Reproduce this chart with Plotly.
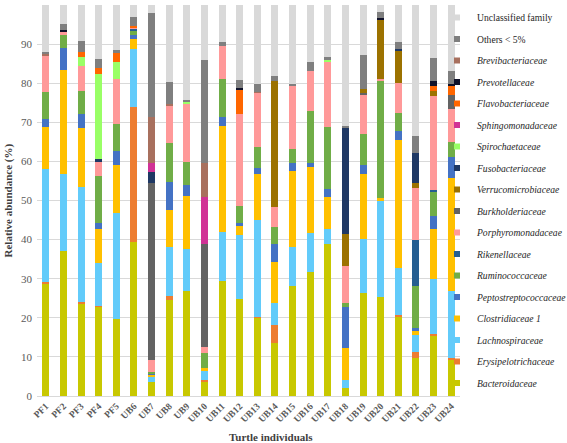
import plotly.graph_objects as go

turtles = ["PF1", "PF2", "PF3", "PF4", "PF5", "UB6", "UB7", "UB8", "UB9", "UB10", "UB11", "UB12",
           "UB13", "UB14", "UB15", "UB16", "UB17", "UB18", "UB19", "UB20", "UB21", "UB22", "UB23", "UB24"]

bacteroidaceae = [28.8, 37.2, 23.7, 22.8, 19.6, 39.5, 3.7, 24.6, 26.9, 3.8, 29.4, 24.9, 20.0, 13.6, 28.1, 31.8, 39.0, 2.0, 26.3, 25.2, 20.3, 9.8, 15.4, 9.4]
erysipelotrichaceae = [0.4, 0, 0.3, 0.3, 0, 34.5, 0, 1.0, 0, 0.3, 0, 0, 0.3, 4.6, 0, 0, 0, 0, 0, 0, 0.4, 1.5, 0.4, 0.2]
lachnospiraceae = [28.8, 19.7, 29.4, 11.0, 27.1, 14.7, 1.2, 12.4, 10.6, 2.5, 12.6, 16.3, 24.7, 5.7, 9.9, 9.8, 3.6, 2.1, 13.8, 24.9, 12.1, 4.3, 14.0, 17.3]
clostridiaceae1 = [10.9, 26.5, 15.1, 8.7, 12.4, 2.6, 0.6, 9.6, 13.7, 0.5, 27.1, 2.4, 11.9, 10.5, 19.5, 16.9, 8.2, 8.3, 16.8, 0.5, 32.8, 1.0, 12.8, 28.8]
peptostreptococcaceae = [1.9, 5.7, 3.6, 1.5, 3.6, 1.1, 0.3, 7.2, 2.8, 0, 2.3, 0.7, 1.3, 4.6, 2.0, 1.0, 2.1, 10.3, 2.2, 0, 2.3, 0.9, 3.4, 5.3]
ruminococcaceae = [6.9, 3.2, 5.9, 11.9, 6.9, 1.2, 0.4, 9.8, 5.8, 4.0, 9.7, 4.3, 5.4, 4.1, 3.7, 13.5, 15.8, 1.2, 7.9, 30.2, 4.6, 10.6, 6.3, 4.0]
rikenellaceae = [0, 0, 0, 0, 0, 0.4, 0, 0, 0, 0, 0, 0, 0, 0, 0, 0, 0, 0, 0, 0, 0, 11.8, 0.4, 0]
porphyromonadaceae = [9.5, 0.9, 6.4, 3.9, 11.5, 0.3, 3.0, 9.6, 15.1, 1.5, 8.5, 23.4, 14.0, 5.2, 16.1, 10.2, 16.9, 9.3, 10.0, 0.4, 7.6, 13.2, 24.1, 8.3]
burkholderiaceae = [0, 0, 0, 0, 0, 0, 45.2, 0, 0, 26.4, 0, 0, 0, 0, 0, 0, 0, 0, 0.4, 0, 0, 0, 0, 3.8]
verrucomicrobiaceae = [0, 0, 0, 0, 0, 0, 0, 0, 0, 0, 0, 0, 0, 32.3, 0, 0, 0, 8.2, 1.0, 15.1, 8.2, 1.5, 1.3, 0]
fusobacteriaceae = [0, 0, 0, 0.5, 0, 0, 2.8, 0, 0, 0, 0, 0, 0, 0, 0, 0, 0, 27.2, 0, 0, 0.4, 7.5, 0, 0]
spirochaetaceae = [0, 0, 2.4, 21.7, 4.4, 0, 0, 0, 0.4, 0, 0, 0, 0, 0, 0, 0, 0.4, 0, 0, 0, 0, 0, 0, 0]
sphingomonadaceae = [0, 0, 0, 0, 0, 0, 2.3, 0, 0, 12.0, 0, 0, 0, 0, 0, 0, 0, 0, 0, 0, 0, 0, 0, 0]
flavobacteriaceae = [0, 0, 1.3, 1.5, 2.3, 0.3, 0, 0, 0, 0, 0, 6.5, 0, 0, 0, 0, 0, 0, 0, 0, 0, 0, 1.2, 2.3]
prevotellaceae = [0, 0.4, 0, 0, 0, 0, 0, 0, 0, 0, 0, 0.3, 0, 0, 0, 0, 0, 0, 0, 0.3, 0, 0, 1.3, 0.3]
brevibacteriaceae = [0.4, 0, 0, 0, 0, 0, 11.8, 0.4, 0, 8.5, 0, 0, 0.2, 0, 0, 0, 0, 0, 0, 0, 0, 0, 0, 0]
others = [0.5, 1.5, 2.7, 2.4, 0.7, 2.4, 26.6, 5.8, 0.4, 26.4, 1.0, 2.0, 2.0, 1.2, 0.5, 2.3, 0.8, 0.5, 8.8, 1.7, 1.9, 4.4, 5.9, 3.5]
unclassified = [11.9, 4.9, 9.2, 14.1, 11.5, 3.0, 2.1, 19.6, 24.3, 14.1, 9.4, 19.2, 20.2, 18.2, 20.2, 14.5, 13.2, 30.9, 12.8, 1.7, 9.4, 33.5, 13.5, 16.8]

series = [
    ("<i>Bacteroidaceae</i>", bacteroidaceae, "#C8C800"),
    ("<i>Erysipelotrichaceae</i>", erysipelotrichaceae, "#ED7D31"),
    ("<i>Lachnospiraceae</i>", lachnospiraceae, "#62CBFA"),
    ("<i>Clostridiaceae 1</i>", clostridiaceae1, "#FFC000"),
    ("<i>Peptostreptococcaceae</i>", peptostreptococcaceae, "#4472C4"),
    ("<i>Ruminococcaceae</i>", ruminococcaceae, "#70AD47"),
    ("<i>Rikenellaceae</i>", rikenellaceae, "#255E91"),
    ("<i>Porphyromonadaceae</i>", porphyromonadaceae, "#FF9999"),
    ("<i>Burkholderiaceae</i>", burkholderiaceae, "#636363"),
    ("<i>Verrucomicrobiaceae</i>", verrucomicrobiaceae, "#9C7200"),
    ("<i>Fusobacteriaceae</i>", fusobacteriaceae, "#1F3864"),
    ("<i>Spirochaetaceae</i>", spirochaetaceae, "#99FF66"),
    ("<i>Sphingomonadaceae</i>", sphingomonadaceae, "#D13296"),
    ("<i>Flavobacteriaceae</i>", flavobacteriaceae, "#FF6600"),
    ("<i>Prevotellaceae</i>", prevotellaceae, "#10122A"),
    ("<i>Brevibacteriaceae</i>", brevibacteriaceae, "#A8705E"),
    ("Others &lt; 5%", others, "#7F7F7F"),
    ("Unclassified family", unclassified, "#D9D9D9"),
]

serif = "Liberation Serif, Times New Roman, serif"

fig = go.Figure()
for name, vals, color in series:
    fig.add_trace(go.Bar(
        x=turtles, y=vals, name=name, marker=dict(color=color, line=dict(width=0)),
        showlegend=False,
    ))
# legend entries (top = Unclassified family) with small square swatches
for i, (name, vals, color) in enumerate(reversed(series)):
    fig.add_trace(go.Scatter(
        x=[None], y=[None], mode="markers", name=name,
        marker=dict(symbol="square", size=6, color=color),
        legendgroup="g%02d" % i, showlegend=True,
    ))

PL, PR, PT, PB = 37, 460, 5, 396
pw, ph = PR - PL, PB - PT

fig.update_layout(
    width=567, height=443,
    barmode="stack", bargap=0.6,
    plot_bgcolor="white", paper_bgcolor="white",
    margin=dict(l=PL, r=567 - PR, t=PT, b=443 - PB, autoexpand=False),
    font=dict(family=serif, size=10, color="#404040"),
    legend=dict(
        x=(437 - PL) / pw, xanchor="left", y=(PB - 3) / ph, yanchor="top",
        traceorder="grouped", tracegroupgap=2.5, maxheight=440,
        font=dict(family=serif, size=9.6, color="#262626"),
        bgcolor="rgba(0,0,0,0)", borderwidth=0,
    ),
    showlegend=True,
    annotations=[
        dict(text="<b>Turtle individuals</b>", xref="paper", yref="paper",
             x=(271 - PL) / pw, y=(PB - 437) / ph, xanchor="center", yanchor="middle",
             showarrow=False, font=dict(family=serif, size=11, color="#404040")),
        dict(text="<b>Relative abundance (%)</b>", xref="paper", yref="paper",
             x=(8 - PL) / pw, y=0.5, xanchor="center", yanchor="middle", textangle=-90,
             showarrow=False, font=dict(family=serif, size=11, color="#404040")),
    ],
)
fig.update_yaxes(
    range=[0, 100], dtick=10, showgrid=True, gridcolor="#D9D9D9", gridwidth=1,
    zeroline=False, showline=False, ticks="", automargin=False,
    ticklabelstandoff=4,
    tickfont=dict(family=serif, size=11, color="#595959"),
)
fig.update_xaxes(
    showline=True, linecolor="#D9D9D9", linewidth=1, ticks="", tickangle=-45, automargin=False,
    tickfont=dict(family=serif, size=9.5, color="#595959", weight="bold"),
)

fig.write_html("out.html", config={"displayModeBar": False},
               post_script="document.body.style.margin='0px';")
